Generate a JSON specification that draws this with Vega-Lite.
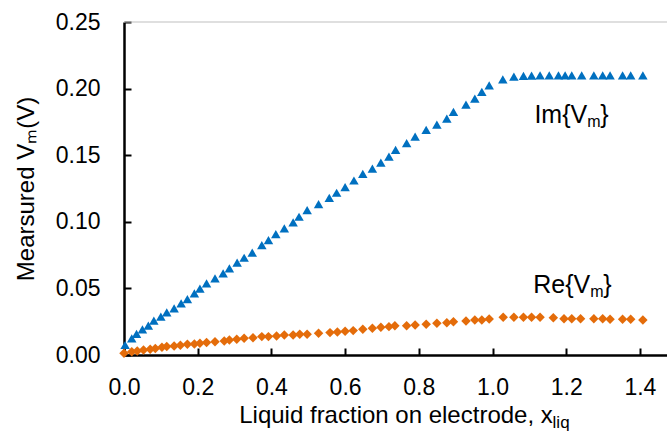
{
  "$schema": "https://vega.github.io/schema/vega-lite/v6.json",
  "width": 543,
  "height": 333,
  "autosize": {"type": "none"},
  "padding": {"left": 124, "top": 22, "right": 0, "bottom": 78},
  "background": "white",
  "config": {
    "font": "Liberation Sans",
    "view": {"stroke": null},
    "axis": {
      "domain": true,
      "ticks": true,
      "domainColor": "#000000",
      "domainWidth": 2.5,
      "tickColor": "#000000",
      "tickWidth": 2,
      "tickSize": -7,
      "grid": false,
      "labelFont": "Liberation Sans",
      "labelFontSize": 23,
      "labelColor": "#000000",
      "titleFont": "Liberation Sans",
      "titleFontSize": 24,
      "titleFontWeight": "normal",
      "titleColor": "#000000",
      "labelFlush": false,
      "labelOverlap": false
    }
  },
  "datasets": {
    "im": [
      {"x": 0.003, "v": 0.0075}, {"x": 0.021, "v": 0.0125}, {"x": 0.034, "v": 0.0158}, {"x": 0.050, "v": 0.0193},
      {"x": 0.066, "v": 0.022}, {"x": 0.081, "v": 0.0258}, {"x": 0.100, "v": 0.0288}, {"x": 0.116, "v": 0.032},
      {"x": 0.136, "v": 0.035}, {"x": 0.155, "v": 0.0388}, {"x": 0.172, "v": 0.042}, {"x": 0.191, "v": 0.0463},
      {"x": 0.206, "v": 0.0498}, {"x": 0.224, "v": 0.0538}, {"x": 0.247, "v": 0.0575}, {"x": 0.269, "v": 0.0613},
      {"x": 0.286, "v": 0.065}, {"x": 0.307, "v": 0.0693}, {"x": 0.326, "v": 0.073}, {"x": 0.348, "v": 0.0768},
      {"x": 0.374, "v": 0.0825}, {"x": 0.392, "v": 0.0863}, {"x": 0.412, "v": 0.0908}, {"x": 0.435, "v": 0.095},
      {"x": 0.459, "v": 0.0995}, {"x": 0.475, "v": 0.1038}, {"x": 0.497, "v": 0.1088}, {"x": 0.528, "v": 0.1133},
      {"x": 0.557, "v": 0.118}, {"x": 0.577, "v": 0.1218}, {"x": 0.600, "v": 0.126}, {"x": 0.624, "v": 0.131},
      {"x": 0.648, "v": 0.136}, {"x": 0.674, "v": 0.140}, {"x": 0.697, "v": 0.1445}, {"x": 0.719, "v": 0.149},
      {"x": 0.737, "v": 0.154}, {"x": 0.767, "v": 0.159}, {"x": 0.790, "v": 0.164}, {"x": 0.820, "v": 0.169},
      {"x": 0.849, "v": 0.173}, {"x": 0.876, "v": 0.1775}, {"x": 0.894, "v": 0.1825}, {"x": 0.928, "v": 0.188},
      {"x": 0.952, "v": 0.1925}, {"x": 0.971, "v": 0.1975}, {"x": 0.991, "v": 0.2025}, {"x": 1.028, "v": 0.207},
      {"x": 1.058, "v": 0.209}, {"x": 1.084, "v": 0.2095}, {"x": 1.106, "v": 0.2098}, {"x": 1.129, "v": 0.210},
      {"x": 1.154, "v": 0.210}, {"x": 1.179, "v": 0.210}, {"x": 1.197, "v": 0.210}, {"x": 1.215, "v": 0.210},
      {"x": 1.242, "v": 0.210}, {"x": 1.275, "v": 0.210}, {"x": 1.299, "v": 0.210}, {"x": 1.319, "v": 0.210},
      {"x": 1.353, "v": 0.210}, {"x": 1.375, "v": 0.210}, {"x": 1.408, "v": 0.210}
    ],
    "re": [
      {"x": 0.0, "v": 0.0013}, {"x": 0.021, "v": 0.0025}, {"x": 0.036, "v": 0.003}, {"x": 0.053, "v": 0.0038},
      {"x": 0.071, "v": 0.0043}, {"x": 0.085, "v": 0.0048}, {"x": 0.103, "v": 0.0058}, {"x": 0.116, "v": 0.0063},
      {"x": 0.136, "v": 0.0068}, {"x": 0.153, "v": 0.0073}, {"x": 0.172, "v": 0.008}, {"x": 0.191, "v": 0.0083},
      {"x": 0.206, "v": 0.0088}, {"x": 0.224, "v": 0.0093}, {"x": 0.247, "v": 0.010}, {"x": 0.272, "v": 0.0105},
      {"x": 0.286, "v": 0.0113}, {"x": 0.306, "v": 0.0118}, {"x": 0.326, "v": 0.0125}, {"x": 0.350, "v": 0.013},
      {"x": 0.374, "v": 0.0138}, {"x": 0.392, "v": 0.0138}, {"x": 0.414, "v": 0.0143}, {"x": 0.435, "v": 0.015},
      {"x": 0.459, "v": 0.015}, {"x": 0.477, "v": 0.0155}, {"x": 0.497, "v": 0.0155}, {"x": 0.528, "v": 0.0163},
      {"x": 0.559, "v": 0.0168}, {"x": 0.579, "v": 0.0173}, {"x": 0.600, "v": 0.0178}, {"x": 0.622, "v": 0.0183},
      {"x": 0.648, "v": 0.0193}, {"x": 0.674, "v": 0.020}, {"x": 0.697, "v": 0.0208}, {"x": 0.719, "v": 0.0213},
      {"x": 0.735, "v": 0.022}, {"x": 0.767, "v": 0.022}, {"x": 0.790, "v": 0.0225}, {"x": 0.820, "v": 0.023},
      {"x": 0.849, "v": 0.0238}, {"x": 0.876, "v": 0.0243}, {"x": 0.894, "v": 0.025}, {"x": 0.928, "v": 0.0255},
      {"x": 0.952, "v": 0.0263}, {"x": 0.971, "v": 0.0263}, {"x": 0.991, "v": 0.027}, {"x": 1.029, "v": 0.0283},
      {"x": 1.058, "v": 0.0283}, {"x": 1.084, "v": 0.0283}, {"x": 1.106, "v": 0.0283}, {"x": 1.129, "v": 0.0283},
      {"x": 1.165, "v": 0.028}, {"x": 1.194, "v": 0.0273}, {"x": 1.215, "v": 0.0273}, {"x": 1.239, "v": 0.0273},
      {"x": 1.275, "v": 0.0273}, {"x": 1.299, "v": 0.0273}, {"x": 1.319, "v": 0.0268}, {"x": 1.353, "v": 0.0268},
      {"x": 1.375, "v": 0.0268}, {"x": 1.408, "v": 0.0263}
    ],
    "labels": [
      {"x": 1.257, "v": 0.174, "t": "Im{V"},
      {"x": 1.265, "v": 0.0463, "t": "Re{V"}
    ],
    "sub": [
      {"x": 1.163, "v": -0.0548, "t": "liq"}
    ],
    "top": [
      {"v": 0.25}
    ]
  },
  "layer": [
    {
      "data": {"name": "im"},
      "mark": {"type": "point", "shape": "triangle-up", "filled": true, "size": 90, "color": "#0070C0", "opacity": 1},
      "encoding": {
        "x": {
          "field": "x", "type": "quantitative",
          "scale": {"domain": [0, 1.4735], "nice": false, "zero": false},
          "axis": {
            "values": [0, 0.2, 0.4, 0.6, 0.8, 1.0, 1.2, 1.4],
            "format": ".1f",
            "labelPadding": 28,
            "titlePadding": 4,
            "title": "Liquid fraction on electrode, x"
          }
        },
        "y": {
          "field": "v", "type": "quantitative",
          "scale": {"domain": [0, 0.25], "nice": false},
          "axis": {
            "values": [0, 0.05, 0.1, 0.15, 0.2, 0.25],
            "format": ".2f",
            "labelPadding": 31,
            "titlePadding": 17,
            "title": "Mearsured Vₘ(V)"
          }
        }
      }
    },
    {
      "data": {"name": "top"},
      "mark": {"type": "rule", "color": "#BFBFBF", "strokeWidth": 1},
      "encoding": {
        "y": {"field": "v", "type": "quantitative"}
      }
    },
    {
      "data": {"name": "re"},
      "mark": {"type": "point", "shape": "diamond", "filled": true, "size": 90, "color": "#E46C0A", "opacity": 1},
      "encoding": {
        "x": {"field": "x", "type": "quantitative"},
        "y": {"field": "v", "type": "quantitative"}
      }
    },
    {
      "data": {"name": "labels"},
      "mark": {"type": "text", "align": "right", "baseline": "alphabetic", "fontSize": 25, "color": "#000000"},
      "encoding": {
        "x": {"field": "x", "type": "quantitative"},
        "y": {"field": "v", "type": "quantitative"},
        "text": {"field": "t"}
      }
    },
    {
      "data": {"name": "labels"},
      "mark": {"type": "text", "align": "left", "baseline": "alphabetic", "fontSize": 16, "dy": 4, "color": "#000000", "text": "m"},
      "encoding": {
        "x": {"field": "x", "type": "quantitative"},
        "y": {"field": "v", "type": "quantitative"}
      }
    },
    {
      "data": {"name": "labels"},
      "mark": {"type": "text", "align": "left", "baseline": "alphabetic", "fontSize": 25, "dx": 13, "color": "#000000", "text": "}"},
      "encoding": {
        "x": {"field": "x", "type": "quantitative"},
        "y": {"field": "v", "type": "quantitative"}
      }
    },
    {
      "data": {"name": "sub"},
      "mark": {"type": "text", "align": "left", "baseline": "alphabetic", "fontSize": 17, "color": "#000000"},
      "encoding": {
        "x": {"field": "x", "type": "quantitative"},
        "y": {"field": "v", "type": "quantitative"},
        "text": {"field": "t"}
      }
    }
  ]
}
